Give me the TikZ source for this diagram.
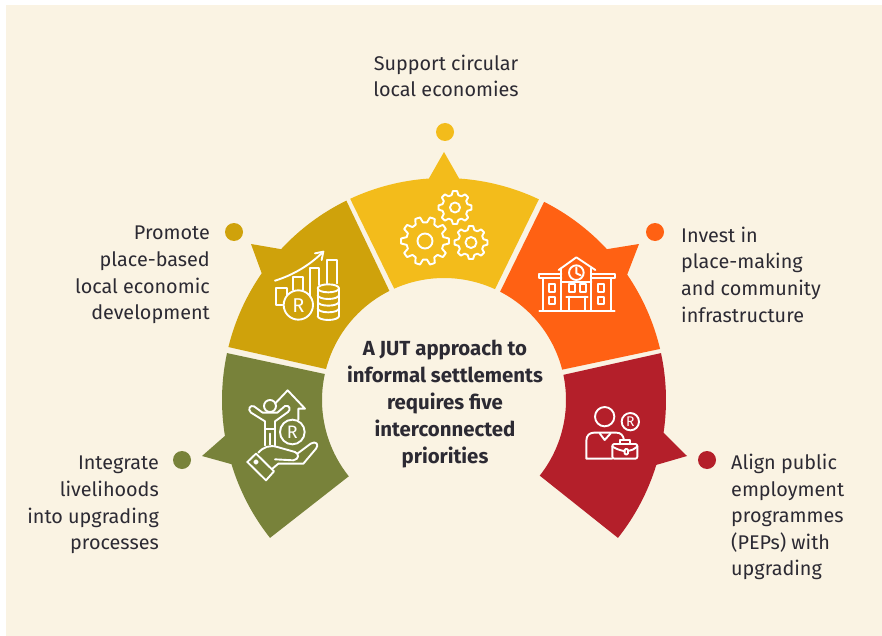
\documentclass[tikz,border=0pt]{standalone}
\usepackage{fontspec}
\setmainfont{Fira Sans}
\definecolor{cream}{HTML}{FAF3E3}
\definecolor{inktext}{HTML}{2C2A33}
\definecolor{goldseg}{HTML}{F3BC1B}
\definecolor{ochreseg}{HTML}{CFA20B}
\definecolor{orangeseg}{HTML}{FF6113}
\definecolor{oliveseg}{HTML}{78823A}
\definecolor{redseg}{HTML}{B41F2A}
% one gear: centre, outer radius, hole radius, number of teeth
\newcommand{\gearshape}[4]{
    \draw [iconline] (#1) circle [radius=#3];
    \pgfmathsetmacro{\gearstep}{360/#4}
    \draw [iconline, shift={(#1)}] (0:#2)
        \foreach \i in {1,...,#4} {
            -- ({(\i-1)*\gearstep+0.17*\gearstep}:#2)
            -- ({(\i-1)*\gearstep+0.33*\gearstep}:#2*0.78)
            -- ({(\i-1)*\gearstep+0.67*\gearstep}:#2*0.78)
            -- ({(\i-1)*\gearstep+0.83*\gearstep}:#2)
            -- ({\i*\gearstep}:#2)
        } -- cycle;
}
\begin{document}
\begin{tikzpicture}[
        x=1pt, y=-1pt,
        dot/.style={circle, inner sep=0pt, minimum size=18pt},
        lefttext/.style={anchor=west, align=left, text=inktext, inner sep=0pt, font=\fontsize{19.8}{26.6}\selectfont},
        righttext/.style={anchor=east, align=right, text=inktext, inner sep=0pt, font=\fontsize{19.8}{26.6}\selectfont},
        toptext/.style={align=center, text=inktext, inner sep=0pt, font=\fontsize{19.8}{26.2}\selectfont},
        centretext/.style={align=center, text=inktext, inner sep=0pt, font=\fontsize{20.4}{26.8}\selectfont\bfseries},
        iconline/.style={draw=white, line width=1.9pt, line join=round, line cap=round},
        iconletter/.style={text=white, inner sep=0pt}
    ]

\useasboundingbox (0,0) rectangle (882,636);
\fill [cream] (6,5) rectangle (882,636);

% Five segments of the ring, angles measured around its centre
\begin{scope}[shift={(444,400)}]
    \fill [goldseg] (245:222) arc [start angle=245, end angle=266.1, radius=222] -- (0,-248) -- (273.9:222)
        arc [start angle=273.9, end angle=295.3, radius=222] -- (294.7:122)
        arc [start angle=294.7, end angle=245.9, radius=122] -- cycle;
    \fill [ochreseg] (243.9:222) -- (243.4:122) arc [start angle=243.4, end angle=194.7, radius=122] -- (193.8:222)
        arc [start angle=193.8, end angle=214.8, radius=222] -- (-193,-156) -- (222.8:222)
        arc [start angle=222.8, end angle=243.9, radius=222] -- cycle;
    \fill [orangeseg] (296.8:222) arc [start angle=296.8, end angle=317.2, radius=222] -- (195,-156) -- (325.6:222)
        arc [start angle=325.6, end angle=346.7, radius=222] -- (345.6:122)
        arc [start angle=345.6, end angle=297.4, radius=122] -- cycle;
    \fill [oliveseg] (192.2:222) -- (192.3:122) arc [start angle=192.3, end angle=141.3, radius=122] -- (141.6:222)
        arc [start angle=141.6, end angle=163.2, radius=222] -- (-242,56) -- (170.7:222)
        arc [start angle=170.7, end angle=192.2, radius=222] -- cycle;
    \fill [redseg] (347.8:222) arc [start angle=347.8, end angle=368.5, radius=222] -- (243,56) -- (17:222)
        arc [start angle=17, end angle=38.4, radius=222] -- (38.3:122)
        arc [start angle=38.3, end angle=-11.9, radius=122] -- cycle;
\end{scope}

% Dots
\node (dotcircular) [dot, fill=goldseg] at (445,132) {};
\node (dotplace) [dot, fill=ochreseg] at (234,232) {};
\node (dotinvest) [dot, fill=orangeseg] at (655,232) {};
\node (dotlivelihood) [dot, fill=oliveseg] at (182,460) {};
\node (dotpublic) [dot, fill=redseg] at (707,460) {};

% Labels
\node (circular) [toptext] at (446,76) {Support circular\\local economies};
\node (place) [righttext] at (210,275) {Promote\\place-based\\local economic\\development};
\node (invest) [lefttext] at (681,274.5) {Invest in\\place-making\\and community\\infrastructure};
\node (livelihood) [righttext] at (159,505) {Integrate\\livelihoods\\into upgrading\\processes};
\node (public) [lefttext] at (731,517) {Align public\\employment\\programmes\\(PEPs) with\\upgrading};
\node (approach) [centretext] at (445,404) {A JUT approach to\\informal settlements\\requires five\\interconnected\\priorities};

% Gears
\gearshape{425,241}{24}{7.5}{10}
\gearshape{455,207.5}{16.5}{5}{8}
\gearshape{471,242.5}{16.5}{5.5}{8}

% Chart with coins
\begin{scope}[shift={(265,240)}, scale=0.3333]
    \draw [iconline] (30,122) .. controls (85,105) and (135,75) .. (175,35);
    \draw [iconline] (150,40) -- (175,35) -- (170,60);
    \draw [iconline] (52,195) -- (32,195) -- (32,145) -- (65,145) -- (65,165);
    \draw [iconline] (85,150) -- (85,110) -- (113,110) -- (113,150);
    \draw [iconline] (135,170) -- (135,85) -- (163,85) -- (163,135);
    \draw [iconline] (187,130) -- (187,60) -- (215,60) -- (215,130);
    \draw [iconline] (100,195) circle [radius=44];
    \node (chartletter) [iconletter, font=\fontsize{20}{20}\selectfont] at (100,196) {R};
    \draw [iconline] (190,145) ellipse [x radius=32, y radius=12];
    \draw [iconline] (158,145) -- (158,228);
    \draw [iconline] (222,145) -- (222,228);
    \foreach \coiny in {165,185,205,228}
        \draw [iconline] (158,\coiny) arc [start angle=180, end angle=0, x radius=32, y radius=12];
\end{scope}

% School
\begin{scope}[shift={(532,250)}, scale=0.3333]
    \draw [iconline] (80,60) -- (133,22) -- (190,60);
    \draw [iconline] (88,55) -- (88,182);
    \draw [iconline] (178,55) -- (178,182);
    \draw [iconline] (22,182) -- (248,182);
    \draw [iconline] (88,72) -- (22,72) -- (22,85) -- (88,85);
    \draw [iconline] (178,72) -- (248,72) -- (248,85) -- (178,85);
    \draw [iconline] (32,85) -- (32,182);
    \draw [iconline] (238,85) -- (238,182);
    \draw [iconline] (133,68) circle [radius=22];
    \draw [iconline] (133,52) -- (133,70) -- (146,76);
    \draw [iconline] (88,95) -- (178,95);
    \foreach \winx/\winy in {52/103, 52/140, 198/103, 198/140, 110/103, 143/103}
        \draw [iconline] (\winx,\winy) rectangle ++(18,22);
    \draw [iconline] (103,140) -- (167,140);
    \draw [iconline] (110,140) -- (110,182);
    \draw [iconline] (160,140) -- (160,182);
\end{scope}

% Hand holding child and house
\begin{scope}[shift={(240,382)}, scale=0.3333]
    \draw [iconline] (105,65) -- (143,25) -- (195,80) -- (175,80) -- (175,113);
    \draw [iconline] (90,72) circle [radius=18];
    \draw [iconline] (75,190) -- (75,118) -- (33,92) .. controls (22,82) and (30,68) .. (42,73) -- (68,92) -- (112,92)
        -- (135,72) .. controls (148,68) and (154,82) .. (144,90) -- (105,118) -- (105,190);
    \draw [iconline] (75,140) -- (105,140);
    \draw [iconline] (90,155) -- (90,188);
    \draw [iconline] (157,150) circle [radius=37];
    \node (handletter) [iconletter, font=\fontsize{18}{18}\selectfont] at (157,151) {R};
    \draw [iconline] (22,240) -- (48,215) -- (102,268) -- (78,295) -- cycle;
    \draw [iconline] (48,240) circle [radius=5];
    \draw [iconline] (55,212) .. controls (70,195) and (90,188) .. (112,195) -- (165,210)
        .. controls (178,215) and (178,232) .. (160,235) -- (105,232);
    \draw [iconline] (172,215) -- (212,185) .. controls (228,175) and (238,188) .. (228,200)
        -- (190,245) -- (115,245) -- (95,262);
\end{scope}

% Person with briefcase
\begin{scope}[shift={(578,400)}, scale=0.3333]
    \draw [iconline] (80,50) circle [radius=29];
    \draw [iconline] (157,65) circle [radius=26];
    \node (personletter) [iconletter, font=\fontsize{14}{14}\selectfont] at (157,65) {R};
    \draw [iconline] (103,176) -- (25,176) -- (25,122) .. controls (25,106) and (35,98) .. (48,98) -- (115,98)
        .. controls (128,98) and (136,106) .. (138,120);
    \draw [iconline] (65,100) -- (80,120) -- (98,100);
    \draw [iconline, rounded corners=2pt] (103,132) rectangle (178,176);
    \draw [iconline] (125,132) -- (125,120) -- (157,120) -- (157,132);
    \draw [iconline] (103,140) .. controls (120,150) and (135,153) .. (140,153);
    \draw [iconline] (150,153) .. controls (160,152) and (170,147) .. (178,140);
    \draw [iconline, rounded corners=1pt] (140,147) rectangle (150,163);
\end{scope}

\end{tikzpicture}
\end{document}
